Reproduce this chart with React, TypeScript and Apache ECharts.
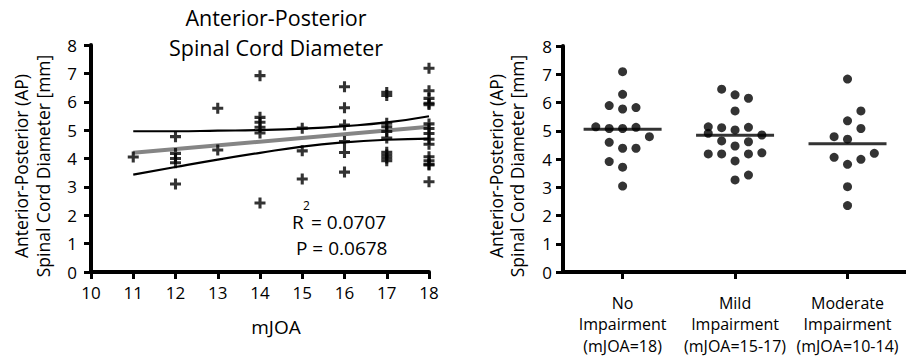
import React, { useEffect, useRef } from "react";
import * as echarts from "echarts";

// ---------- Left panel data (scatter of AP diameter vs mJOA) ----------
const mjoaLevels = [11, 12, 13, 14, 15, 16, 17, 18];
const apByMjoa = [
  [4.05],
  [4.77, 4.18, 4.0, 3.85, 3.1],
  [5.77, 4.3],
  [6.92, 5.45, 5.28, 5.1, 4.9, 2.43],
  [5.07, 4.27, 3.28],
  [6.53, 5.79, 5.18, 4.6, 4.21, 3.52],
  [6.33, 6.22, 5.24, 5.12, 4.95, 4.72, 4.22, 4.12, 4.02, 3.92],
  [7.18, 6.39, 6.12, 5.95, 5.9, 5.22, 5.06, 4.88, 4.68, 4.5, 4.06, 3.92, 3.8, 3.77, 3.18],
];
const fitLine = [4.2, 5.12]; // at mJOA 11 and 18
const ciUpper = [4.96, 4.96, 4.98, 5.0, 5.05, 5.14, 5.27, 5.49];
const ciLower = [3.43, 3.7, 3.96, 4.2, 4.42, 4.57, 4.66, 4.7];

// ---------- Right panel data (groups) ----------
const groupLabels = [
  "No\nImpairment\n(mJOA=18)",
  "Mild\nImpairment\n(mJOA=15-17)",
  "Moderate\nImpairment\n(mJOA=10-14)",
];
const noImpValues = [7.09, 6.29, 5.89, 5.77, 5.82, 5.14, 5.08, 5.08, 5.12, 4.79, 4.59, 4.38, 4.38, 3.91, 3.71, 3.04];
const noImpSlots = [0, 0, -1, 0, 1, -2, -1, 0, 1, 2, -1, 0, 1, -1, 0, 0];
const mildValues = [6.47, 6.27, 6.15, 5.7, 5.14, 5.11, 5.03, 5.12, 4.91, 4.85, 4.64, 4.46, 4.61, 4.18, 4.18, 4.18, 4.22, 3.93, 3.43, 3.26];
const mildSlots = [-1, 0, 1, 0, -2, -1, 0, 1, -2, 2, -1, 0, 1, -2, -1, 1, 2, 0, 1, 0];
const modValues = [6.83, 5.7, 5.35, 5.08, 4.79, 4.7, 4.06, 3.81, 3.99, 4.2, 3.02, 2.35];
const modSlots = [0, 1, 0, 1, -1, 0, -1, 0, 1, 2, 0, 0];
const groupMeans = [5.05, 4.84, 4.54];

const FONT = "Open Sans";
const PLUS = "path://M3.6,0H6.4V3.6H10V6.4H6.4V10H3.6V6.4H0V3.6H3.6Z";

export default function App() {
  const ref = useRef<HTMLDivElement>(null);
  useEffect(() => {
    if (!ref.current) return;
    const chart = echarts.init(ref.current, undefined, { renderer: "svg" });

    const crosses: number[][] = [];
    mjoaLevels.forEach((x, i) => apByMjoa[i].forEach((v) => crosses.push([x, v])));

    const groups = [
      { vals: noImpValues, slots: noImpSlots },
      { vals: mildValues, slots: mildSlots },
      { vals: modValues, slots: modSlots },
    ];
    const dots: any[] = [];
    groups.forEach((g, gi) =>
      g.vals.forEach((v, k) =>
        dots.push({ value: [gi + 1, v], symbolOffset: [g.slots[k] * 13.4, 0] })
      )
    );

    const axisLine = { show: true, lineStyle: { color: "#000", width: 4 } };
    const axisTick = { show: true, inside: false, length: 7, lineStyle: { color: "#000", width: 3 } };
    const lbl = { color: "#000", fontFamily: FONT, fontSize: 17 };

    chart.setOption({
      animation: false,
      grid: [
        { left: 91, top: 45, width: 338, height: 227 },
        { left: 563, top: 46, width: 343, height: 226 },
      ],
      xAxis: [
        {
          gridIndex: 0, type: "value", min: 10, max: 18, interval: 1,
          axisLine, axisTick, splitLine: { show: false },
          axisLabel: { ...lbl, margin: 12, showMinLabel: true, showMaxLabel: true },
        },
        {
          gridIndex: 1, type: "value", min: 0.47, max: 3.52,
          axisLine,
          axisTick: { ...axisTick, customValues: [1, 2, 3] },
          splitLine: { show: false },
          axisLabel: {
            ...lbl, fontSize: 16, lineHeight: 21.5, margin: 20,
            customValues: [1, 2, 3],
            formatter: (v: number) => groupLabels[Math.round(v) - 1] || "",
          },
        },
      ],
      yAxis: [
        {
          gridIndex: 0, type: "value", min: 0, max: 8, interval: 1,
          axisLine, axisTick, splitLine: { show: false },
          axisLabel: { ...lbl, margin: 14 },
        },
        {
          gridIndex: 1, type: "value", min: 0, max: 8, interval: 1,
          axisLine, axisTick, splitLine: { show: false },
          axisLabel: { ...lbl, margin: 11 },
        },
      ],
      series: [
        {
          type: "scatter", xAxisIndex: 0, yAxisIndex: 0, data: crosses,
          symbol: PLUS, symbolSize: 11, itemStyle: { color: "#000" }, z: 3,
        },
        {
          type: "line", xAxisIndex: 0, yAxisIndex: 0, smooth: true, showSymbol: false, symbol: "none",
          data: mjoaLevels.map((x, i) => [x, ciUpper[i]]),
          lineStyle: { color: "#000", width: 2.2 }, z: 2,
        },
        {
          type: "line", xAxisIndex: 0, yAxisIndex: 0, smooth: true, showSymbol: false, symbol: "none",
          data: mjoaLevels.map((x, i) => [x, ciLower[i]]),
          lineStyle: { color: "#000", width: 2.2 }, z: 2,
        },
        {
          type: "line", xAxisIndex: 0, yAxisIndex: 0, showSymbol: false, symbol: "none",
          data: [[mjoaLevels[0], fitLine[0]], [mjoaLevels[mjoaLevels.length - 1], fitLine[1]]],
          lineStyle: { color: "#858585", width: 4 }, z: 2,
        },
        {
          type: "scatter", xAxisIndex: 1, yAxisIndex: 1, data: dots,
          symbol: "circle", symbolSize: 9, itemStyle: { color: "#000" },
        },
        {
          type: "scatter", xAxisIndex: 1, yAxisIndex: 1,
          data: groupMeans.map((m, i) => [i + 1, m]),
          symbol: "rect", symbolSize: [78, 3], itemStyle: { color: "#000" },
        },
      ],
      graphic: [
        {
          type: "text", x: 276, y: 32,
          style: {
            text: "Anterior-Posterior\nSpinal Cord Diameter", fontFamily: FONT, fontSize: 21.5,
            lineHeight: 30, fill: "#000", align: "center", verticalAlign: "middle",
          },
        },
        {
          type: "text", x: 32, y: 166, rotation: Math.PI / 2,
          style: {
            text: "Anterior-Posterior (AP)\nSpinal Cord Diameter [mm]", fontFamily: FONT, fontSize: 17.5,
            lineHeight: 22, fill: "#000", align: "center", verticalAlign: "middle",
          },
        },
        {
          type: "text", x: 506, y: 166, rotation: Math.PI / 2,
          style: {
            text: "Anterior-Posterior (AP)\nSpinal Cord Diameter [mm]", fontFamily: FONT, fontSize: 17.5,
            lineHeight: 21, fill: "#000", align: "center", verticalAlign: "middle",
          },
        },
        {
          type: "text", x: 276, y: 327,
          style: { text: "mJOA", fontFamily: FONT, fontSize: 19, fill: "#000", align: "center", verticalAlign: "middle" },
        },
        {
          type: "text", x: 292, y: 222,
          style: { text: "R", fontFamily: FONT, fontSize: 19, fill: "#000", align: "left", verticalAlign: "middle" },
        },
        {
          type: "text", x: 303, y: 205,
          style: { text: "2", fontFamily: FONT, fontSize: 12, fill: "#000", align: "left", verticalAlign: "middle" },
        },
        {
          type: "text", x: 311, y: 222,
          style: { text: "= 0.0707", fontFamily: FONT, fontSize: 19, fill: "#000", align: "left", verticalAlign: "middle" },
        },
        {
          type: "text", x: 296, y: 248,
          style: { text: "P = 0.0678", fontFamily: FONT, fontSize: 19, fill: "#000", align: "left", verticalAlign: "middle" },
        },
      ],
    });
    return () => chart.dispose();
  }, []);
  return (
    <div
      ref={ref}
      style={{ position: "fixed", left: 0, top: 0, width: 906, height: 357, background: "#fff" }}
    />
  );
}
